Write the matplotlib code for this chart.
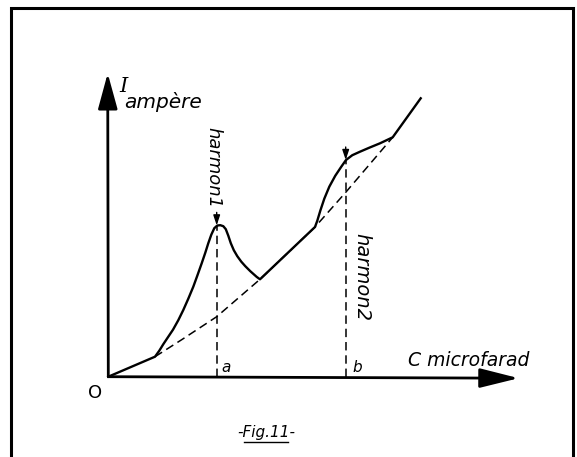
import matplotlib.pyplot as plt

# readings from the figure, units measured from the origin O
curve_x = [0, 46.7, 51, 55, 60, 64.7, 70, 75, 80, 85, 89, 93.4, 97, 100, 103,
           106, 109, 112, 115, 117.5, 120, 122.5, 125.5, 129, 133, 137, 142,
           148.4, 151.7, 206.7, 209, 212, 216, 221, 227, 233, 237.7, 244, 251.7,
           261, 271.7, 284.4, 312.4]
curve_y = [0, 20, 26, 32.5, 40, 47, 56.5, 66.7, 78, 90, 101, 113.4, 124, 133.5,
           142, 148.5, 151.2, 151.5, 150.5, 147.5, 141, 133.5, 126.5, 120.5, 115,
           110.5, 105.5, 99.8, 97.4, 149.7, 156, 166, 178, 190, 201, 210, 216.7,
           221.5, 225, 229, 233.4, 239.4, 278.4]

# dashed "background" current without resonance
base_x = [46.7, 73.4, 108.4, 151.7, 206.7, 237.1, 284.4]
base_y = [20, 37, 60, 97.4, 149.7, 184, 239.4]

# harmonic resonances
harm_x = [108.4, 237.4]
harm_y = [151.3, 216.7]
harm_labels = ['harmon1', 'harmon2']
foot_labels = ['a', 'b']

fig = plt.figure(figsize=(5.77, 4.57), dpi=100)
ax = fig.add_axes([0, 0, 1, 1])
ax.set_xlim(-108.3, 468.7)
ax.set_ylim(-80.3, 376.7)
ax.axis('off')

# frame around the drawing
ax.plot([-97.3, -97.3, 464.7, 464.7], [-80.3, 368.7, 368.7, -80.3],
        color='black', lw=2.2, solid_joinstyle='miter')

# axes with long arrow heads
ax.annotate('', xy=(-0.6, 303.4), xytext=(0, 0),
            arrowprops=dict(arrowstyle='-|>,head_length=1.1,head_width=0.3',
                            mutation_scale=20, lw=2, color='black',
                            shrinkA=0, shrinkB=0))
ax.annotate('', xy=(410.4, -1.5), xytext=(0, 0),
            arrowprops=dict(arrowstyle='-|>,head_length=1.2,head_width=0.3',
                            mutation_scale=20, lw=2, color='black',
                            shrinkA=0, shrinkB=0))

# curves
ax.plot(curve_x, curve_y, color='black', lw=1.7, solid_joinstyle='round')
ax.plot(base_x, base_y, color='black', lw=1.1, dashes=(5.5, 3.2))

for hx, hy in zip(harm_x, harm_y):
    ax.plot([hx, hx], [0, hy], color='black', lw=1.1, dashes=(5.5, 3.2))
    ax.annotate('', xy=(hx, hy), xytext=(hx, hy + 13),
                arrowprops=dict(arrowstyle='-|>,head_length=0.6,head_width=0.2',
                                mutation_scale=10, lw=1, color='black',
                                shrinkA=0, shrinkB=0))

txt = dict(color='black', style='italic', family='DejaVu Sans')
ax.text(harm_x[0] - 3.5, 208.7, harm_labels[0], rotation=-90, ha='center',
        va='center', fontsize=13, **txt)
ax.text(harm_x[1] + 16.5, 99.7, harm_labels[1], rotation=-90, ha='center',
        va='center', fontsize=14, **txt)
ax.text(harm_x[0] + 9, 8.7, foot_labels[0], ha='center', va='center',
        fontsize=11, **txt)
ax.text(harm_x[1] + 12, 9.7, foot_labels[1], ha='center', va='center',
        fontsize=11, **txt)

ax.text(299.7, 16.7, 'C microfarad', ha='left', va='center', fontsize=13.5, **txt)
ax.text(15.5, 289.7, 'I', ha='center', va='center', fontsize=15,
        color='black', style='italic', family='DejaVu Serif')
ax.text(16.2, 274.7, 'ampère', ha='left', va='center', fontsize=14.5, **txt)
ax.text(-13.3, -16, 'O', ha='center', va='center', fontsize=13,
        color='black', family='DejaVu Sans')

# caption
ax.text(157.7, -56, '-Fig.11-', ha='center', va='center', fontsize=11, **txt)
ax.plot([136, 180], [-65, -65], color='black', lw=1)

fig.savefig('out.png', dpi=100, facecolor='white')
